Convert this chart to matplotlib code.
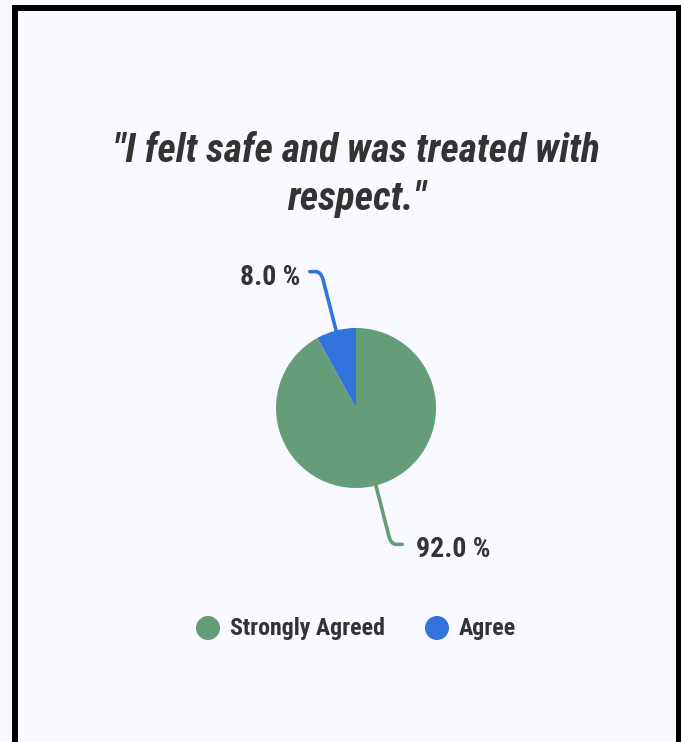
import numpy as np
import matplotlib.pyplot as plt
from matplotlib import font_manager
from matplotlib.path import Path
from matplotlib.patches import PathPatch, Rectangle, Circle

# data
labels = ["Strongly Agreed", "Agree"]
values = [92.0, 8.0]
colors = ["#649D77", "#3373DC"]
title_lines = ['"I felt safe and was treated with', 'respect."']

names = {f.name for f in font_manager.fontManager.ttflist}
if "Roboto Condensed" in names:
    FONT = "Roboto Condensed"
    cond = True
else:
    FONT = "Roboto"
    cond = False
plt.rcParams["font.family"] = [FONT, "DejaVu Sans"]

W, H = 681, 742
BG = "#F8FAFF"
TXT = "#333333"
fig = plt.figure(figsize=(W / 100, H / 100), dpi=100, facecolor=BG)

# axes spanning the whole figure, 1 data unit = 80 px, pie centre at px (356, 408)
R = 80.0
cx, cy = 356, 408
ax = fig.add_axes([0, 0, 1, 1])
ax.set_facecolor(BG)

wedges, _ = ax.pie(values, colors=colors, startangle=90, counterclock=False,
                   radius=1.0, wedgeprops=dict(linewidth=0))
ax.set_xlim(-cx / R, (W - cx) / R)
ax.set_ylim(-(H - cy) / R, cy / R)
ax.axis("off")

# leader lines with rounded elbow
r_el = 1.76
hook = 0.12
for w, v, c in zip(wedges, values, colors):
    a = np.deg2rad((w.theta1 + w.theta2) / 2)
    ux, uy = np.cos(a), np.sin(a)
    s = 1 if ux >= 0 else -1
    p0 = (ux, uy)
    pe = (ux * r_el, uy * r_el)
    pa = (ux * (r_el - 0.1), uy * (r_el - 0.1))
    pb = (pe[0] + s * 0.07, pe[1])
    p2 = (pe[0] + s * (hook + 0.02), pe[1])
    path = Path([p0, pa, pe, pb, p2],
                [Path.MOVETO, Path.LINETO, Path.CURVE3, Path.CURVE3, Path.LINETO])
    ax.add_patch(PathPatch(path, fill=False, edgecolor=c, lw=2.6,
                           capstyle="round", joinstyle="round"))
    gap = 0.17 if s > 0 else 0.12
    ax.text(p2[0] + s * gap, pe[1] - 0.07, f"{v:.1f} %",
            ha="left" if s > 0 else "right", va="center",
            fontsize=16 if not cond else 20, fontweight="bold", color=TXT)

# title
tsize = 23 if not cond else 28.5
fig.text(cx / W, 1 - 162 / H, title_lines[0], ha="center", va="baseline",
         fontsize=tsize, fontweight="bold", fontstyle="italic", color=TXT)
fig.text(357 / W, 1 - 210 / H, title_lines[1], ha="center", va="baseline",
         fontsize=tsize, fontweight="bold", fontstyle="italic", color=TXT)

# legend
leg_x = [208, 437]
leg_y = 628
for lx, lab, c in zip(leg_x, labels, colors):
    fig.patches.append(Circle((lx, H - leg_y), 12, transform=None,
                              facecolor=c, edgecolor="none"))
    fig.text((lx + 22) / W, 1 - (leg_y + 1) / H, lab, ha="left", va="center",
             fontsize=15 if not cond else 17.2, fontweight="bold", color=TXT)

# frame (left, top, right; open at bottom)
for x0, y0, w, h in [(12, 0, 6, H - 5), (12, H - 11, W - 12, 6), (676, 0, 5, H - 5)]:
    fig.patches.append(Rectangle((x0, y0), w, h, transform=None,
                                 facecolor="black", edgecolor="none"))

fig.savefig("out.png", dpi=100, facecolor=BG)
